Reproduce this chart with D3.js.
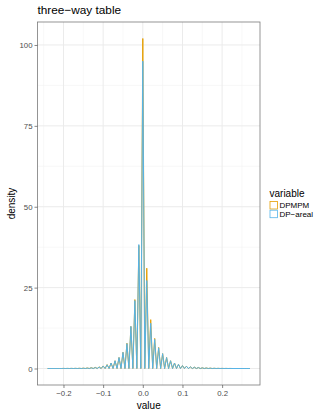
<!DOCTYPE html>
<html>
<head>
<meta charset="utf-8">
<script src="https://cdn.jsdelivr.net/npm/d3@7"></script>
<style>
  body { margin: 0; background: #fff; }
  svg text { font-family: 'Liberation Sans', Arial, sans-serif; }
</style>
</head>
<body>
<div class="graph"></div>
<script>
// observed values, one spike per 0.01 step
var values = [-0.24, -0.23, -0.22, -0.21, -0.20, -0.19, -0.18, -0.17, -0.16, -0.15,
  -0.14, -0.13, -0.12, -0.11, -0.10, -0.09, -0.08, -0.07, -0.06, -0.05,
  -0.04, -0.03, -0.02, -0.01, 0.00, 0.01, 0.02, 0.03, 0.04, 0.05,
  0.06, 0.07, 0.08, 0.09, 0.10, 0.11, 0.12, 0.13, 0.14, 0.15,
  0.16, 0.17, 0.18, 0.19, 0.20, 0.21, 0.22, 0.23, 0.24, 0.25,
  0.26, 0.27]

// spike heights (density)
var dpmpm = [0, 0, 0, 0, 0.02, 0.02, 0.03, 0.04, 0.06, 0.1,
  0.15, 0.25, 0.35, 0.5, 0.8, 1.2, 1.7, 2.4, 3.4, 5.0,
  7.8, 13.0, 21.3, 38.0, 102.0, 31.0, 15.1, 9.3, 6.5, 4.6,
  3.4, 2.4, 1.7, 1.3, 0.9, 0.7, 0.5, 0.4, 0.3, 0.2,
  0.15, 0.1, 0.06, 0.04, 0.03, 0.02, 0.01, 0, 0, 0,
  0, 0]

var dpAreal = [0, 0, 0, 0, 0.02, 0.02, 0.03, 0.04, 0.05, 0.08,
  0.12, 0.2, 0.3, 0.45, 0.75, 1.15, 1.7, 2.4, 3.4, 5.0,
  7.7, 13.0, 21.0, 38.3, 95.0, 27.2, 14.0, 9.0, 6.4, 4.6,
  3.4, 2.4, 1.7, 1.3, 0.9, 0.7, 0.5, 0.4, 0.3, 0.2,
  0.15, 0.1, 0.06, 0.04, 0.03, 0.02, 0.01, 0, 0, 0,
  0, 0]

var seriesNames = ['DPMPM', 'DP\u2212areal']
var seriesColors = ['#E69F00', '#56B4E9']
var xTicks = [-0.2, -0.1, 0, 0.1, 0.2]
var xMinor = [-0.25, -0.15, -0.05, 0.05, 0.15, 0.25]
var yTicks = [0, 25, 50, 75, 100]
var yMinor = [12.5, 37.5, 62.5, 87.5]

var series = [dpmpm, dpAreal].map((heights, i) => {
  return {name: seriesNames[i], color: seriesColors[i], heights}
})

var totalWidth = 320, totalHeight = 414
var margin = {left: 37.5, top: 22, right: 60, bottom: 29}
var width = totalWidth - margin.left - margin.right
var height = totalHeight - margin.top - margin.bottom

var svg = d3.select('.graph').append('svg')
  .attr('width', totalWidth).attr('height', totalHeight)

var g = svg.append('g').attr('transform', `translate(${margin.left},${margin.top})`)

// ggplot style 5% expansion
var xExt = d3.extent(values)
var xPad = (xExt[1] - xExt[0])*0.05
var x = d3.scaleLinear().domain([xExt[0] - xPad, xExt[1] + xPad]).range([0, width])

var yMax = d3.max(series, s => d3.max(s.heights))
var y = d3.scaleLinear().domain([-yMax*0.05, yMax*1.05]).range([height, 0])

// grid
g.append('g').selectAll('line').data(xMinor).join('line')
  .attr('x1', d => x(d)).attr('x2', d => x(d)).attr('y1', 0).attr('y2', height)
  .attr('stroke', '#f4f4f4').attr('stroke-width', 0.6)
g.append('g').selectAll('line').data(yMinor).join('line')
  .attr('y1', d => y(d)).attr('y2', d => y(d)).attr('x1', 0).attr('x2', width)
  .attr('stroke', '#f4f4f4').attr('stroke-width', 0.6)
g.append('g').selectAll('line').data(xTicks).join('line')
  .attr('x1', d => x(d)).attr('x2', d => x(d)).attr('y1', 0).attr('y2', height)
  .attr('stroke', '#ebebeb').attr('stroke-width', 1)
g.append('g').selectAll('line').data(yTicks).join('line')
  .attr('y1', d => y(d)).attr('y2', d => y(d)).attr('x1', 0).attr('x2', width)
  .attr('stroke', '#ebebeb').attr('stroke-width', 1)

// each spike peaks at its value and falls to the baseline halfway to the next one
function spikePoints(heights){
  var pts = []
  values.forEach((v, i) => {
    pts.push([v, heights[i]])
    if (i < values.length - 1) pts.push([(v + values[i + 1])/2, 0])
  })
  return pts
}

var line = d3.line().x(d => x(d[0])).y(d => y(d[1]))

g.append('g').selectAll('path').data(series).join('path')
  .attr('d', d => line(spikePoints(d.heights)))
  .attr('fill', 'none')
  .attr('stroke', d => d.color)
  .attr('stroke-width', 1)
  .attr('stroke-linejoin', 'round')

// panel border
g.append('rect')
  .attr('width', width).attr('height', height)
  .attr('fill', 'none').attr('stroke', '#7a7a7a').attr('stroke-width', 0.8)

// axes
var xAxis = d3.axisBottom(x).tickValues(xTicks).tickSize(3).tickPadding(2)
  .tickFormat(d => d3.format('.1f')(d).replace('-', '\u2212'))
var yAxis = d3.axisLeft(y).tickValues(yTicks).tickSize(3).tickPadding(2)

var xAxisSel = g.append('g').attr('transform', `translate(0,${height})`).call(xAxis)
var yAxisSel = g.append('g').call(yAxis)

;[xAxisSel, yAxisSel].forEach(sel => {
  sel.select('.domain').remove()
  sel.selectAll('.tick line').attr('stroke', '#555').attr('stroke-width', 0.7)
  sel.selectAll('.tick text').attr('fill', '#4d4d4d').style('font-size', '7.8px')
    .style('font-family', "'Liberation Sans', Arial, sans-serif")
})

// labels
svg.append('text')
  .attr('x', margin.left).attr('y', 14)
  .style('font-size', '11.8px').attr('fill', '#000')
  .text('three\u2212way table')

svg.append('text')
  .attr('x', margin.left + width/2).attr('y', 409)
  .attr('text-anchor', 'middle')
  .style('font-size', '10px').attr('fill', '#000')
  .text('value')

svg.append('text')
  .attr('transform', `translate(15,${margin.top + height/2}) rotate(-90)`)
  .attr('text-anchor', 'middle')
  .style('font-size', '10px').attr('fill', '#000')
  .text('density')

// legend
var legend = svg.append('g').attr('transform', 'translate(269.5,196.5)')
legend.append('text').style('font-size', '10px').attr('fill', '#000').text('variable')

var keySel = legend.selectAll('g.key').data(series).join('g')
  .attr('class', 'key')
  .attr('transform', (d, i) => `translate(0,${4.5 + i*8.7})`)

keySel.append('rect')
  .attr('x', 0.5).attr('y', 0.5).attr('width', 7.5).attr('height', 7.5)
  .attr('fill', 'none').attr('stroke', d => d.color).attr('stroke-width', 0.8)

keySel.append('text')
  .attr('x', 10).attr('y', 7)
  .style('font-size', '8px').attr('fill', '#000')
  .text(d => d.name)
</script>
</body>
</html>
